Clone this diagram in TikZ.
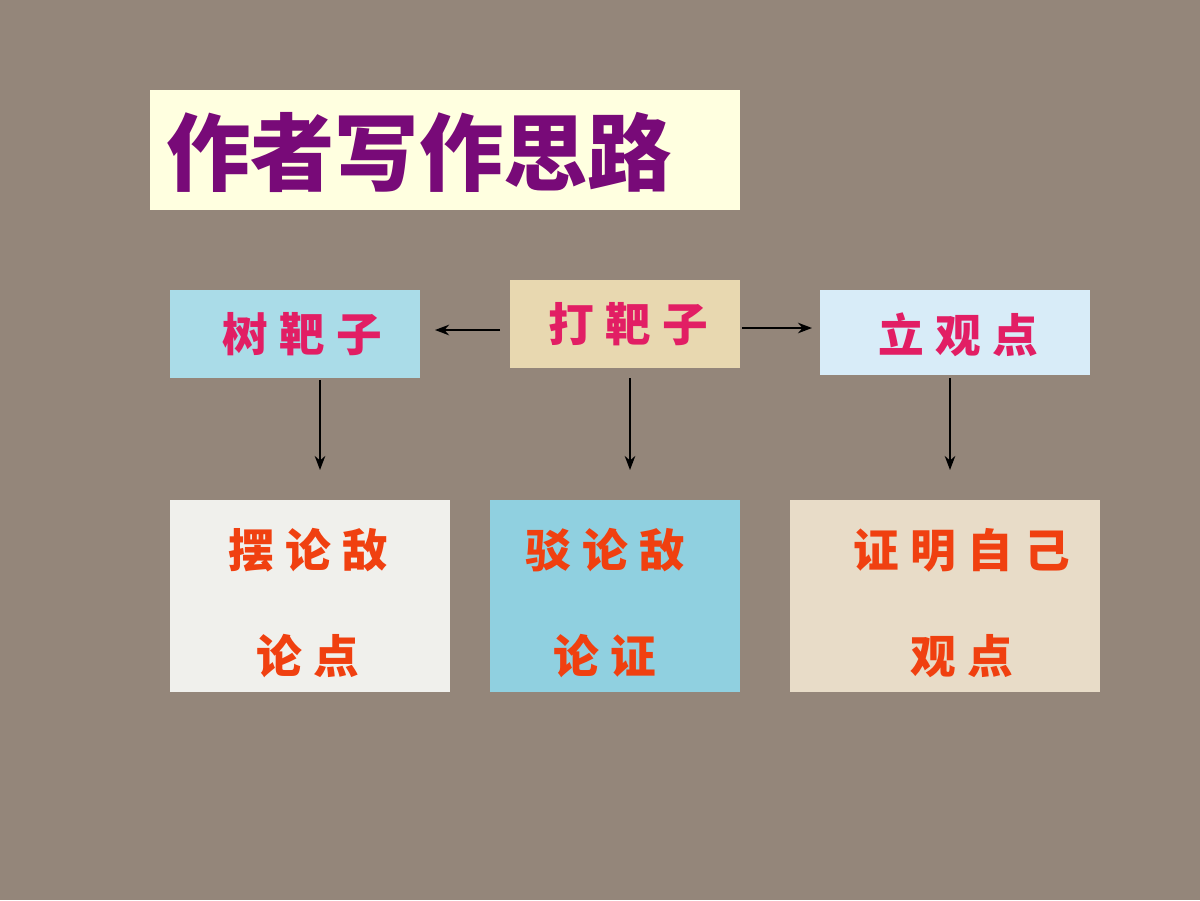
\documentclass[tikz,border=0pt]{standalone}
\usepackage{fontspec}
\newfontfamily\cjk{Noto Sans CJK SC}
\newfontfamily\cjkw[LetterSpace=25]{Noto Sans CJK SC}
\usetikzlibrary{arrows.meta}
\definecolor{bg}{RGB}{148,134,122}
\definecolor{titlebg}{RGB}{255,255,224}
\definecolor{titlefg}{RGB}{120,10,120}
\definecolor{topfg}{RGB}{226,30,100}
\definecolor{botfg}{RGB}{240,64,16}
\definecolor{sbzbg}{RGB}{170,220,232}
\definecolor{dbzbg}{RGB}{232,216,176}
\definecolor{lgdbg}{RGB}{216,236,248}
\definecolor{bldbg}{RGB}{240,240,236}
\definecolor{zldbg}{RGB}{144,208,224}
\definecolor{zmzjbg}{RGB}{232,220,200}
\tikzset{
  box/.style={draw=none, inner sep=0pt, font=\cjkw\bfseries\fontsize{26}{30}\selectfont},
  top/.style={box, text=topfg},
  bot/.style={box, text=botfg, align=center},
  link/.style={-{Stealth[length=8pt,width=6pt]}, very thick, black},
}
\begin{document}
\begin{tikzpicture}[x=0.02cm,y=-0.02cm]
    \fill[bg] (0,0) rectangle (1200,900);
    % title
    \fill[titlebg] (150,90) rectangle (740,210);
    \node[font=\cjk\bfseries\fontsize{48}{52}\selectfont, text=titlefg, anchor=west] (title) at (160,152) {作者写作思路};
    % top row
    \fill[sbzbg] (170,290) rectangle (420,378);
    \fill[dbzbg] (510,280) rectangle (740,368);
    \fill[lgdbg] (820,290) rectangle (1090,375);
    \node[top] (sbz) at (302,334) {树靶子};
    \node[top] (dbz) at (628,324) {打靶子};
    \node[top] (lgd) at (958,335) {立观点};
    % bottom row
    \fill[bldbg] (170,500) rectangle (450,692);
    \fill[zldbg] (490,500) rectangle (740,692);
    \fill[zmzjbg] (790,500) rectangle (1100,692);
    \node[bot] (bld) at (308,603) {摆论敌\\[1.05cm]论点};
    \node[bot] (zld) at (605,603) {驳论敌\\[1.05cm]论证};
    \node[bot] (zmzj) at (962,603) {证明自己\\[1.05cm]观点\hspace{1.3em}};
    % arrows
    \coordinate (sbzs) at (320,380);
    \coordinate (sbze) at (320,470);
    \coordinate (dbzs) at (630,378);
    \coordinate (dbze) at (630,470);
    \coordinate (lgds) at (950,378);
    \coordinate (lgde) at (950,470);
    \coordinate (dl) at (500,330);
    \coordinate (sr) at (435,330);
    \coordinate (dr) at (742,328);
    \coordinate (ll) at (812,328);
    \draw[link] (dl) -- (sr);
    \draw[link] (dr) -- (ll);
    \draw[link] (sbzs) -- (sbze);
    \draw[link] (dbzs) -- (dbze);
    \draw[link] (lgds) -- (lgde);
\end{tikzpicture}
\end{document}
